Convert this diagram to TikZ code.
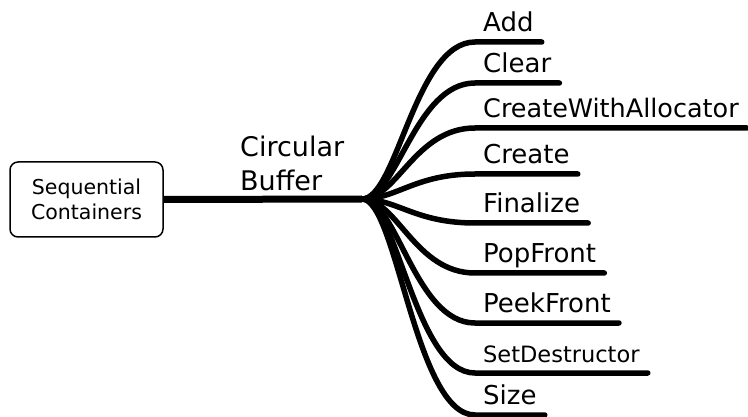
\documentclass[tikz,border=0pt]{standalone}
\usepackage{fontspec}
\setmainfont{DejaVu Sans}
\usepackage{tikz}

\begin{document}
\begin{tikzpicture}[x=1pt,y=-1pt,
    container/.style={draw, line width=1.5pt, rounded corners=8pt,
        minimum width=153pt, minimum height=75pt, align=center,
        font=\fontsize{20.5}{25}\selectfont},
    branch/.style={line width=5.5pt, line cap=round, line join=round},
    method/.style={anchor=south west, inner xsep=8pt, inner ysep=10pt,
        text depth=0pt}]

        \useasboundingbox (0,0) rectangle (748,417);

        % Draw the parent box and the trunk
        \node[container] (seq) at (86.5,199.5) {Sequential\\Containers};
        \coordinate (hub) at (362,199);
        \draw[line width=7pt] (seq.east) -- (hub);
        \node[anchor=base west, align=left, inner sep=0pt,
            font=\fontsize{27}{34}\selectfont] (buf) at (240,191) {Circular\\Buffer};

        % Draw the method branches
        \foreach \name/\y/\fs in {Add/42/26, Clear/83/26,
            CreateWithAllocator/128/25.5, Create/174/26, Finalize/223/26,
            PopFront/273/26, PeekFront/323/26, SetDestructor/373/22.5,
            Size/415/26}{
            \node[method, font=\fontsize{\fs}{30}\selectfont] (m-\name) at (475,\y) {\name};
            \draw[branch] (hub) .. controls +(35,0) and +(-60,0) .. (m-\name.south west)
                -- (m-\name.south east);
        }

    \end{tikzpicture}
\end{document}
